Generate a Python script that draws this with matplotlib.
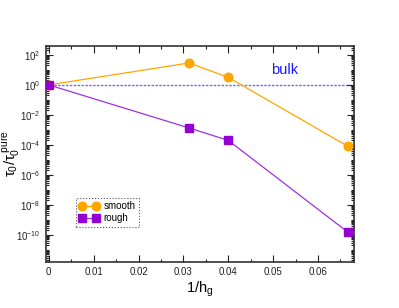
import numpy as np
import matplotlib
matplotlib.use('Agg')
import matplotlib.pyplot as plt
from matplotlib.ticker import FixedLocator, MultipleLocator, FuncFormatter, NullFormatter

plt.rcParams['font.family'] = ['Liberation Sans', 'DejaVu Sans']
plt.rcParams['mathtext.fontset'] = 'custom'
plt.rcParams['mathtext.rm'] = 'Liberation Sans'
plt.rcParams['mathtext.it'] = 'Liberation Sans'

# data: 1/h_g vs tau_0 / tau_0^pure
inv_hg = [0.0, 1/32, 1/25, 1/15]
smooth = [1.0, 29.0, 3.2, 8.0e-5]
rough = [1.0, 1.35e-3, 2.0e-4, 1.5e-10]
bulk = 1.0

x_ticks = [0, 0.01, 0.02, 0.03, 0.04, 0.05, 0.06]
x_labels = ['0', '0.01', '0.02', '0.03', '0.04', '0.05', '0.06']
y_exps = [2, 0, -2, -4, -6, -8, -10]

fig = plt.figure(figsize=(3.99, 3.08), dpi=100)
ax = fig.add_axes([0.116, 0.150, 0.771, 0.701])

ax.axhline(bulk, color='#6b6bff', ls=(0, (1.8, 1.0)), lw=1.0, zorder=1)
ax.plot(inv_hg, smooth, color='#ffa500', lw=0.9, marker='o', ms=6.2,
        mec='#ffa500', mfc='#ffa500', label='smooth', zorder=3)
ax.plot(inv_hg, rough, color='#a030e0', lw=0.9, marker='s', ms=5.2,
        mec='#9400d3', mfc='#9400d3', label='rough', zorder=3)

ax.text(0.0525, 10.0, 'bulk', color='#1a1aff', fontsize=10.5,
        ha='center', va='center')

ax.set_yscale('log')
ax.set_xlim(-0.00055, 0.068)
ax.set_ylim(1.6e-12, 4e2)

ax.xaxis.set_major_locator(FixedLocator(x_ticks))
ax.set_xticklabels(x_labels)
ax.xaxis.set_minor_locator(MultipleLocator(0.005))

ax.yaxis.set_major_locator(FixedLocator([10.0**e for e in y_exps]))
ax.yaxis.set_major_formatter(FuncFormatter(lambda v, p: r'$10^{%d}$' % round(np.log10(v))))
minors = []
for k in range(-13, 4):
    for s in range(1, 10):
        if s == 1 and k % 2 == 0:
            continue
        minors.append(s * 10.0**k)
ax.yaxis.set_minor_locator(FixedLocator(minors))
ax.yaxis.set_minor_formatter(NullFormatter())

ax.tick_params(which='both', direction='in', top=True, right=True,
               labelsize=7, colors='#222222', width=0.8)
ax.tick_params(which='major', length=5, pad=4)
ax.tick_params(which='minor', length=2.5)
for sp in ax.spines.values():
    sp.set_linewidth(1.2)
    sp.set_color('#333333')

ax.set_xlabel(r'1/h$_\mathrm{g}$', fontsize=10.5, labelpad=2)
ax.set_ylabel(r'$\mathrm{\tau_0/\tau_0^{\ pure}}$', fontsize=10.5)
ax.yaxis.set_label_coords(-0.08, 0.5)

leg = ax.legend(loc='lower left', bbox_to_anchor=(0.08, 0.14), fontsize=7,
                numpoints=2, handlelength=2.0, handletextpad=0.5,
                borderpad=0.35, labelspacing=0.2, fancybox=False,
                framealpha=1)
leg.get_frame().set_linestyle(':')
leg.get_frame().set_edgecolor('#555555')
leg.get_frame().set_linewidth(0.8)

fig.savefig('out.png', dpi=100)
